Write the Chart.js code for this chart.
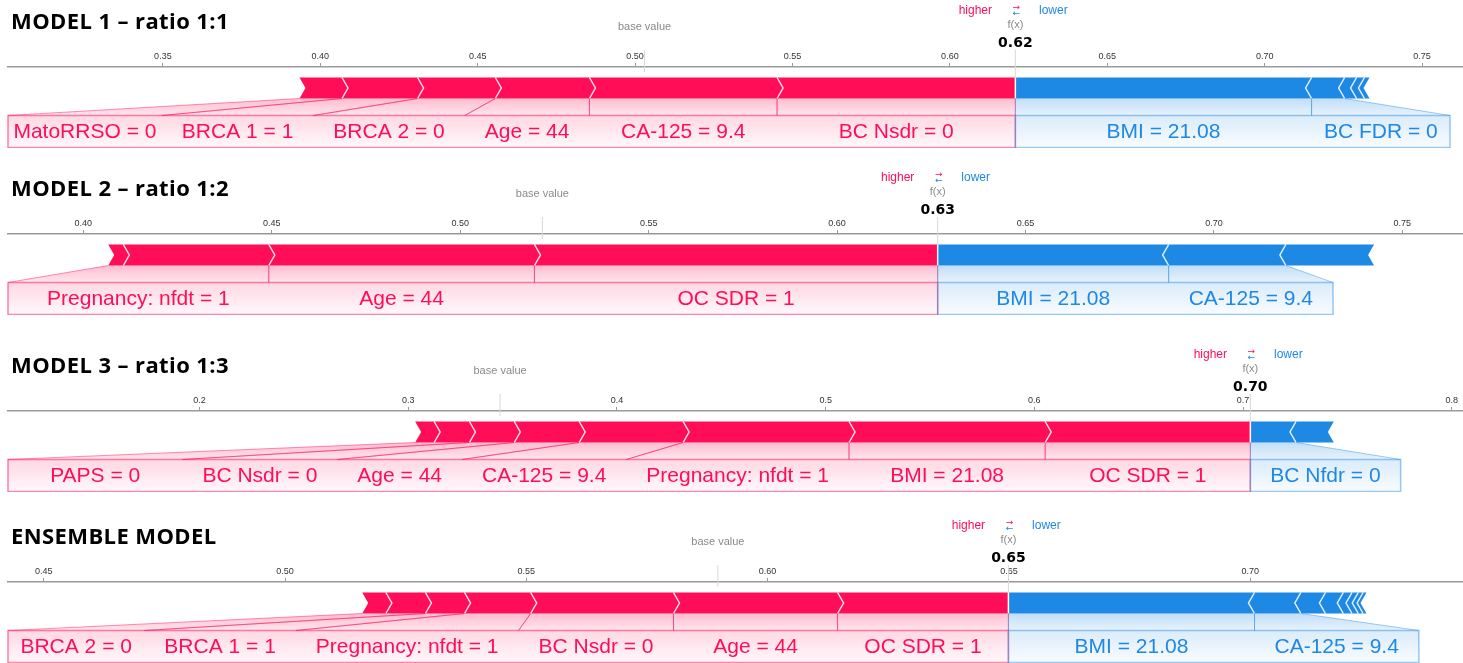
<!DOCTYPE html>
<html><head><meta charset="utf-8">
<script src="https://cdn.jsdelivr.net/npm/chart.js@4.4.1/dist/chart.umd.min.js"></script>
<style>
html,body{margin:0;padding:0;background:#fff;width:1463px;height:663px;overflow:hidden;}
.panel{position:absolute;left:0;width:1463px;height:148px;}
canvas{display:block;}
</style></head><body>
<div class="panel" style="top:0px"><canvas id="c1" width="1463" height="148"></canvas></div>
<div class="panel" style="top:167px"><canvas id="c2" width="1463" height="148"></canvas></div>
<div class="panel" style="top:344px"><canvas id="c3" width="1463" height="148"></canvas></div>
<div class="panel" style="top:515px"><canvas id="c4" width="1463" height="148"></canvas></div>
<script>
// ---------------- DATA ----------------
// Model 1
const m1Title = 'MODEL 1 – ratio 1:1';
const m1PosLabels = ['BC Nsdr = 0', 'CA-125 = 9.4', 'Age = 44', 'BRCA 2 = 0', 'BRCA 1 = 1', 'MatoRRSO = 0'];
const m1PosValues = [0.0757, 0.0596, 0.0299, 0.0247, 0.0240, 0.0135];
const m1NegLabels = ['BMI = 21.08', 'BC FDR = 0', '', '', ''];
const m1NegValues = [0.0941, 0.0105, 0.0038, 0.0025, 0.0016];
const m1Output = 0.6208;
const m1Base = 0.503;
const m1TickLabels = ['0.35', '0.40', '0.45', '0.50', '0.55', '0.60', '0.65', '0.70', '0.75'];
const m1AxisMin = 0.3008, m1AxisMax = 0.763;

// Model 2
const m2Title = 'MODEL 2 – ratio 1:2';
const m2PosLabels = ['OC SDR = 1', 'Age = 44', 'Pregnancy: nfdt = 1', ''];
const m2PosValues = [0.1070, 0.0705, 0.0386, 0.0040];
const m2NegLabels = ['BMI = 21.08', 'CA-125 = 9.4', ''];
const m2NegValues = [0.0613, 0.0311, 0.0234];
const m2Output = 0.6267;
const m2Base = 0.5218;
const m2TickLabels = ['0.40', '0.45', '0.50', '0.55', '0.60', '0.65', '0.70', '0.75'];
const m2AxisMin = 0.380, m2AxisMax = 0.7661;

// Model 3
const m3Title = 'MODEL 3 – ratio 1:3';
const m3PosLabels = ['OC SDR = 1', 'BMI = 21.08', 'Pregnancy: nfdt = 1', 'CA-125 = 9.4', 'Age = 44', 'BC Nsdr = 0', 'PAPS = 0', ''];
const m3PosValues = [0.0983, 0.0940, 0.0795, 0.0498, 0.0311, 0.0215, 0.0169, 0.0091];
const m3NegLabels = ['BC Nfdr = 0', ''];
const m3NegValues = [0.0219, 0.0181];
const m3Output = 0.7035;
const m3Base = 0.344;
const m3TickLabels = ['0.2', '0.3', '0.4', '0.5', '0.6', '0.7', '0.8'];
const m3AxisMin = 0.1082, m3AxisMax = 0.8054;

// Ensemble
const m4Title = 'ENSEMBLE MODEL';
const m4PosLabels = ['OC SDR = 1', 'Age = 44', 'BC Nsdr = 0', 'Pregnancy: nfdt = 1', 'BRCA 1 = 1', 'BRCA 2 = 0', ''];
const m4PosValues = [0.0354, 0.0340, 0.0296, 0.0137, 0.0081, 0.0082, 0.0049];
const m4NegLabels = ['BMI = 21.08', 'CA-125 = 9.4', '', '', '', '', '', ''];
const m4NegValues = [0.0510, 0.0096, 0.0051, 0.0037, 0.0018, 0.0013, 0.0010, 0.0007];
const m4Output = 0.6499;
const m4Base = 0.5897;
const m4TickLabels = ['0.45', '0.50', '0.55', '0.60', '0.65', '0.70'];
const m4AxisMin = 0.4426, m4AxisMax = 0.7441;

// ---------------- DRAWING ----------------
const RED = '#ff0d57', BLUE = '#1e88e5';
const rgbaR = a => 'rgba(255,13,87,' + a + ')';
const rgbaB = a => 'rgba(30,136,229,' + a + ')';
const LABEL_FONT = '21px "Liberation Sans", Arial, sans-serif';
const PAD = 20;

function buildDatasets(posLabels, posValues, negLabels, negValues, output) {
  const ds = [];
  let cur = output;
  posValues.forEach((v, i) => {
    ds.push({ data: [[cur - v, cur]], kind: 'pos', idx: i, featLabel: posLabels[i],
      backgroundColor: 'rgba(0,0,0,0)', borderWidth: 0, barThickness: 21, grouped: false });
    cur -= v;
  });
  cur = output;
  negValues.forEach((v, i) => {
    ds.push({ data: [[cur, cur + v]], kind: 'neg', idx: i, featLabel: negLabels[i],
      backgroundColor: 'rgba(0,0,0,0)', borderWidth: 0, barThickness: 21, grouped: false });
    cur += v;
  });
  return ds;
}

function forcePlugin(cfg) {
  return {
    id: 'force',
    afterDatasetsDraw(chart) {
      const ctx = chart.ctx, xs = chart.scales.x, area = chart.chartArea;
      const fx = xs.getPixelForValue(cfg.output);
      const segs = chart.data.datasets.map((ds, i) => {
        const p = chart.getDatasetMeta(i).data[0].getProps(['x', 'y', 'base', 'height'], true);
        return { kind: ds.kind, idx: ds.idx, label: ds.featLabel,
          L: Math.min(p.x, p.base), R: Math.max(p.x, p.base), y: p.y, h: p.height };
      });
      const pos = segs.filter(s => s.kind === 'pos').sort((a, b) => a.idx - b.idx);
      const neg = segs.filter(s => s.kind === 'neg').sort((a, b) => a.idx - b.idx);
      const d = 6;
      ctx.save();
      // bars
      const drawSeg = (s, inner, color) => {
        const top = s.y - s.h / 2, bot = s.y + s.h / 2, mid = s.y;
        ctx.beginPath();
        if (s.kind === 'pos') {
          ctx.moveTo(s.L, top); ctx.lineTo(s.R, top);
          if (inner) ctx.lineTo(s.R, bot); else { ctx.lineTo(s.R + d, mid); ctx.lineTo(s.R, bot); }
          ctx.lineTo(s.L, bot); ctx.lineTo(s.L + d, mid);
        } else {
          ctx.moveTo(s.R, top); ctx.lineTo(s.L, top);
          if (inner) ctx.lineTo(s.L, bot); else { ctx.lineTo(s.L - d, mid); ctx.lineTo(s.L, bot); }
          ctx.lineTo(s.R, bot); ctx.lineTo(s.R - d, mid);
        }
        ctx.closePath(); ctx.fillStyle = color; ctx.fill();
      };
      pos.forEach((s, i) => drawSeg(s, i === 0, RED));
      neg.forEach((s, i) => drawSeg(s, i === 0, BLUE));
      ctx.strokeStyle = 'rgba(255,255,255,0.85)'; ctx.lineWidth = 1.5;
      pos.forEach((s, i) => {
        if (i === pos.length - 1) return;
        const top = s.y - s.h / 2, bot = s.y + s.h / 2;
        ctx.beginPath(); ctx.moveTo(s.L, top); ctx.lineTo(s.L + d, s.y); ctx.lineTo(s.L, bot); ctx.stroke();
      });
      neg.forEach((s, i) => {
        if (i === neg.length - 1) return;
        const top = s.y - s.h / 2, bot = s.y + s.h / 2;
        ctx.beginPath(); ctx.moveTo(s.R, top); ctx.lineTo(s.R - d, s.y); ctx.lineTo(s.R, bot); ctx.stroke();
      });
      const s0 = pos[0];
      const barTop = s0.y - s0.h / 2, bb = s0.y + s0.h / 2;
      ctx.beginPath(); ctx.moveTo(fx, barTop); ctx.lineTo(fx, bb); ctx.strokeStyle = '#fff'; ctx.lineWidth = 1.5; ctx.stroke();

      // label regions
      ctx.font = LABEL_FONT;
      const bt = bb + 17, bbot = bt + 32;
      const regions = [];
      const barStart = Math.min(...pos.map(s => s.L));
      const labP = pos.filter(s => s.label);
      let R = fx;
      labP.forEach((s, k) => {
        const w = ctx.measureText(s.label).width;
        const last = k === labP.length - 1;
        const L = last ? area.left : Math.min(s.L, R - w - 2 * PAD);
        regions.push({ kind: 'pos', segL: last ? barStart : s.L, segR: s.R, L, R, label: s.label });
        R = L;
      });
      const labN = neg.filter(s => s.label);
      let Lx = fx;
      labN.forEach((s) => {
        const w = ctx.measureText(s.label).width;
        let Rx = Math.max(s.R, Lx + w + 2 * PAD);
        Rx = Math.min(Rx, area.right - 13);
        regions.push({ kind: 'neg', segL: s.L, segR: s.R, L: Lx, R: Rx, label: s.label });
        Lx = Rx;
      });
      // connectors
      regions.forEach(r => {
        const f = r.kind === 'pos' ? rgbaR : rgbaB;
        const g = ctx.createLinearGradient(0, bb, 0, bt);
        g.addColorStop(0, f(0.28)); g.addColorStop(1, f(0.10));
        ctx.beginPath();
        ctx.moveTo(r.segL, bb); ctx.lineTo(r.segR, bb); ctx.lineTo(r.R, bt); ctx.lineTo(r.L, bt); ctx.closePath();
        ctx.fillStyle = g; ctx.fill();
      });
      regions.forEach(r => {
        ctx.strokeStyle = r.kind === 'pos' ? rgbaR(0.45) : rgbaB(0.42);
        ctx.lineWidth = 1;
        ctx.beginPath(); ctx.moveTo(r.segL, bb); ctx.lineTo(r.L, bt); ctx.stroke();
        ctx.beginPath(); ctx.moveTo(r.segR, bb); ctx.lineTo(r.R, bt); ctx.stroke();
      });
      // boxes
      const pL = Math.min(...regions.filter(r => r.kind === 'pos').map(r => r.L));
      const nR = Math.max(...regions.filter(r => r.kind === 'neg').map(r => r.R));
      const boxes = [[pL, fx, rgbaR, 0.5], [fx, nR, rgbaB, 0.45]];
      boxes.forEach(([a, b, f, al]) => {
        const g = ctx.createLinearGradient(0, bt, 0, bbot);
        g.addColorStop(0, f(0.16)); g.addColorStop(1, f(0.03));
        ctx.fillStyle = g; ctx.fillRect(a, bt, b - a, bbot - bt);
        ctx.strokeStyle = f(al); ctx.lineWidth = 1.5;
        ctx.strokeRect(a, bt, b - a, bbot - bt);
      });
      // label texts
      ctx.font = LABEL_FONT; ctx.textAlign = 'center'; ctx.textBaseline = 'middle';
      regions.forEach(r => {
        ctx.fillStyle = r.kind === 'pos' ? RED : BLUE;
        ctx.fillText(r.label, (r.L + r.R) / 2, (bt + bbot) / 2 + 1);
      });
      ctx.restore();
    },
    afterDraw(chart) {
      const ctx = chart.ctx, xs = chart.scales.x, area = chart.chartArea;
      const fx = xs.getPixelForValue(cfg.output);
      const bx = xs.getPixelForValue(cfg.base);
      ctx.save();
      // title
      ctx.fillStyle = '#000'; ctx.textAlign = 'left'; ctx.textBaseline = 'middle';
      ctx.font = 'bold 22px "Open Sans", "Liberation Sans", sans-serif';
      try { ctx.letterSpacing = '0.4px'; } catch (e) {}
      ctx.fillText(cfg.title, 11, 23);
      try { ctx.letterSpacing = '0px'; } catch (e) {}
      // base value / f(x) guide lines
      ctx.strokeStyle = '#d8d8d8'; ctx.lineWidth = 1;
      ctx.beginPath(); ctx.moveTo(bx, 50); ctx.lineTo(bx, area.top + 5); ctx.stroke();
      ctx.beginPath(); ctx.moveTo(fx, 50); ctx.lineTo(fx, area.top + 10); ctx.stroke();
      ctx.textAlign = 'center';
      ctx.font = '11px "Liberation Sans", Arial, sans-serif';
      ctx.fillStyle = '#8a8a8a';
      ctx.fillText('base value', bx, 27);
      ctx.fillText('f(x)', fx, 25);
      ctx.font = 'bold 14px "DejaVu Sans", sans-serif';
      ctx.fillStyle = '#000';
      ctx.fillText(cfg.output.toFixed(2), fx, 43);
      ctx.font = '12px "Liberation Sans", Arial, sans-serif';
      ctx.fillStyle = RED; ctx.fillText('higher', fx - 40, 11);
      ctx.fillStyle = BLUE; ctx.fillText('lower', fx + 38, 11);
      ctx.font = '9px "DejaVu Sans", sans-serif';
      ctx.fillStyle = RED; ctx.fillText('→', fx + 1, 8);
      ctx.fillStyle = BLUE; ctx.fillText('←', fx + 1, 14);
      ctx.restore();
    }
  };
}

function makeForceChart(id, cfg) {
  const tickVals = cfg.tickLabels.map(Number);
  new Chart(document.getElementById(id), {
    type: 'bar',
    data: { labels: [''], datasets: buildDatasets(cfg.posLabels, cfg.posValues, cfg.negLabels, cfg.negValues, cfg.output) },
    options: {
      indexAxis: 'y', responsive: false, animation: false, devicePixelRatio: 1,
      layout: { padding: { top: 37, bottom: 39, left: 8, right: 0 } },
      plugins: { legend: { display: false }, tooltip: { enabled: false }, title: { display: false } },
      scales: {
        x: {
          type: 'linear', position: 'top', min: cfg.min, max: cfg.max,
          afterBuildTicks: sc => { sc.ticks = tickVals.map(v => ({ value: v })); },
          afterFit: sc => { sc.height = 30; },
          ticks: { autoSkip: false, maxRotation: 0, padding: 1, color: '#333',
            font: { size: 9, family: '"Liberation Sans", Arial, sans-serif' },
            callback: (v, i) => cfg.tickLabels[i] },
          grid: { drawOnChartArea: false, drawTicks: true, tickLength: 4, color: '#999' },
          border: { display: true, color: '#999', width: 1.5 }
        },
        y: { display: false }
      }
    },
    plugins: [forcePlugin(cfg)]
  });
}

makeForceChart('c1', { title: m1Title, posLabels: m1PosLabels, posValues: m1PosValues, negLabels: m1NegLabels, negValues: m1NegValues, output: m1Output, base: m1Base, tickLabels: m1TickLabels, min: m1AxisMin, max: m1AxisMax });
makeForceChart('c2', { title: m2Title, posLabels: m2PosLabels, posValues: m2PosValues, negLabels: m2NegLabels, negValues: m2NegValues, output: m2Output, base: m2Base, tickLabels: m2TickLabels, min: m2AxisMin, max: m2AxisMax });
makeForceChart('c3', { title: m3Title, posLabels: m3PosLabels, posValues: m3PosValues, negLabels: m3NegLabels, negValues: m3NegValues, output: m3Output, base: m3Base, tickLabels: m3TickLabels, min: m3AxisMin, max: m3AxisMax });
makeForceChart('c4', { title: m4Title, posLabels: m4PosLabels, posValues: m4PosValues, negLabels: m4NegLabels, negValues: m4NegValues, output: m4Output, base: m4Base, tickLabels: m4TickLabels, min: m4AxisMin, max: m4AxisMax });
</script>
</body></html>
